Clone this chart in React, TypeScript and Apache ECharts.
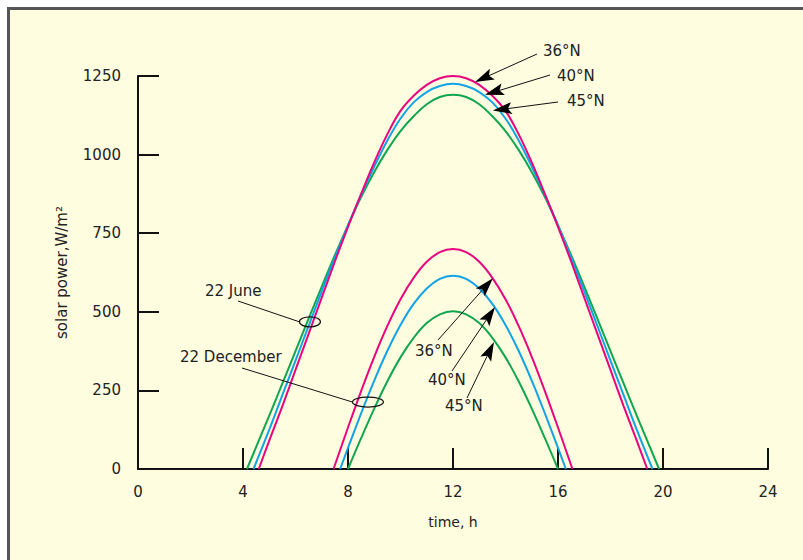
import React, { useEffect, useRef } from "react";
import * as echarts from "echarts";

// ---- data ----
const xTicks = [0, 4, 8, 12, 16, 20, 24];
const yTicks = [0, 250, 500, 750, 1000, 1250];

const hoursJune36 = [4.6, 5, 5.5, 6, 6.5, 7, 7.5, 8, 8.5, 9, 9.5, 10, 10.5, 11, 11.5, 12, 12.5, 13, 13.5, 14, 14.5, 15, 15.5, 16, 16.5, 17, 17.5, 18, 18.5, 19, 19.4];
const june36 = [0, 90, 200, 315, 430, 545, 660, 770, 875, 975, 1065, 1139, 1187, 1222, 1243, 1250, 1243, 1222, 1187, 1139, 1065, 975, 875, 770, 660, 545, 430, 315, 200, 90, 0];

const hoursJune40 = [4.4, 5, 5.5, 6, 6.5, 7, 7.5, 8, 8.5, 9, 9.5, 10, 10.5, 11, 11.5, 12, 12.5, 13, 13.5, 14, 14.5, 15, 15.5, 16, 16.5, 17, 17.5, 18, 18.5, 19, 19.6];
const june40 = [0, 125, 235, 345, 455, 565, 672, 775, 872, 962, 1045, 1115, 1166, 1199, 1218, 1225, 1218, 1199, 1166, 1115, 1045, 962, 872, 775, 672, 565, 455, 345, 235, 125, 0];

const hoursJune45 = [4.15, 5, 5.5, 6, 6.5, 7, 7.5, 8, 8.5, 9, 9.5, 10, 10.5, 11, 11.5, 12, 12.5, 13, 13.5, 14, 14.5, 15, 15.5, 16, 16.5, 17, 17.5, 18, 18.5, 19, 19.85];
const june45 = [0, 170, 272, 375, 478, 580, 680, 775, 865, 945, 1015, 1075, 1122, 1160, 1183, 1190, 1183, 1160, 1122, 1075, 1015, 945, 865, 775, 680, 580, 478, 375, 272, 170, 0];

const hoursDec36 = [7.45, 8, 8.5, 9, 9.5, 10, 10.5, 11, 11.5, 12, 12.5, 13, 13.5, 14, 14.5, 15, 15.5, 16, 16.55];
const dec36 = [0, 132, 248, 357, 455, 540, 608, 659, 690, 700, 690, 659, 608, 540, 455, 357, 248, 132, 0];

const hoursDec40 = [7.7, 8, 8.5, 9, 9.5, 10, 10.5, 11, 11.5, 12, 12.5, 13, 13.5, 14, 14.5, 15, 15.5, 16, 16.3];
const dec40 = [0, 67, 177, 281, 376, 458, 525, 574, 605, 615, 605, 574, 525, 458, 376, 281, 177, 67, 0];

const hoursDec45 = [8, 8.5, 9, 9.5, 10, 10.5, 11, 11.5, 12, 12.5, 13, 13.5, 14, 14.5, 15, 15.5, 16];
const dec45 = [0, 98, 192, 279, 355, 417, 464, 492, 502, 492, 464, 417, 355, 279, 192, 98, 0];

const latitudes = ["36°N", "40°N", "45°N"];
const colors = ["#E8047F", "#12A3E6", "#10A650"];

const FONT = "'DejaVu Sans', 'Liberation Sans', Arial, sans-serif";

const zip = (h: number[], v: number[]) => h.map((x, i) => [x, v[i]]);

export default function App() {
  const ref = useRef<HTMLDivElement>(null);

  useEffect(() => {
    if (!ref.current) return;
    const chart = echarts.init(ref.current, null, { renderer: "svg" });

    const lineSeries = (name: string, data: number[][], color: string) => ({
      name,
      type: "line",
      data,
      smooth: 0.4,
      symbol: "none",
      lineStyle: { color, width: 2 },
      z: 3,
    });

    const axisCommon = {
      type: "value",
      nameLocation: "middle",
      axisLine: { show: true, lineStyle: { color: "#111", width: 2 } },
      axisTick: { show: true, inside: true, length: 21, lineStyle: { color: "#111", width: 2 } },
      splitLine: { show: false },
    };

    chart.setOption({
      animation: false,
      backgroundColor: "transparent",
      grid: { left: 138, right: 35, top: 76, bottom: 91 },
      xAxis: {
        ...axisCommon,
        min: xTicks[0],
        max: xTicks[xTicks.length - 1],
        interval: 4,
        name: "time, h",
        nameGap: 46,
        nameTextStyle: { fontSize: 14, color: "#222", fontFamily: FONT },
        axisLabel: { margin: 15, fontSize: 15, color: "#222", fontFamily: FONT, formatter: (v: number) => String(v) },
      },
      yAxis: {
        ...axisCommon,
        min: yTicks[0],
        max: yTicks[yTicks.length - 1],
        interval: 250,
        name: "solar power,W/m²",
        nameGap: 69,
        nameTextStyle: { fontSize: 15, color: "#222", fontFamily: FONT },
        axisLabel: { margin: 17, fontSize: 15, color: "#222", fontFamily: FONT, formatter: (v: number) => String(v) },
      },
      series: [
        lineSeries("22 June " + latitudes[2], zip(hoursJune45, june45), colors[2]),
        lineSeries("22 June " + latitudes[1], zip(hoursJune40, june40), colors[1]),
        lineSeries("22 June " + latitudes[0], zip(hoursJune36, june36), colors[0]),
        lineSeries("22 December " + latitudes[2], zip(hoursDec45, dec45), colors[2]),
        lineSeries("22 December " + latitudes[1], zip(hoursDec40, dec40), colors[1]),
        lineSeries("22 December " + latitudes[0], zip(hoursDec36, dec36), colors[0]),
      ],
    });

    const px = (p: number[]) => chart.convertToPixel({ gridIndex: 0 }, p) as number[];

    // annotation arrows: tip on the curve (data coords), tail and label in pixels
    const arrows = [
      { text: latitudes[0], tip: [12.84, 1231], tail: [537, 54], label: [543, 51] },
      { text: latitudes[1], tip: [13.22, 1190], tail: [550, 75], label: [557, 76] },
      { text: latitudes[2], tip: [13.52, 1140], tail: [558, 102], label: [567, 101] },
      { text: latitudes[0], tip: [13.52, 607], tail: [438, 340], label: [415, 351] },
      { text: latitudes[1], tip: [13.6, 515], tail: [452, 371], label: [428, 380] },
      { text: latitudes[2], tip: [13.56, 404], tail: [467, 398], label: [445, 406] },
    ];

    const g: any[] = [];
    arrows.forEach((a) => {
      const [tx, ty] = px(a.tip);
      const [sx, sy] = a.tail;
      const dx = tx - sx;
      const dy = ty - sy;
      const len = Math.hypot(dx, dy);
      const ux = dx / len;
      const uy = dy / len;
      const nx = -uy;
      const ny = ux;
      const hl = 19;
      const hw = 6;
      const bx = tx - ux * hl;
      const by = ty - uy * hl;
      g.push({
        type: "line",
        shape: { x1: sx, y1: sy, x2: bx + ux * 4, y2: by + uy * 4 },
        style: { stroke: "#111", lineWidth: 1 },
        z: 10,
      });
      g.push({
        type: "polygon",
        shape: {
          points: [
            [tx, ty],
            [bx + nx * hw, by + ny * hw],
            [tx - ux * hl * 0.8, ty - uy * hl * 0.8],
            [bx - nx * hw, by - ny * hw],
          ],
        },
        style: { fill: "#000" },
        z: 10,
      });
      g.push({
        type: "text",
        x: a.label[0],
        y: a.label[1],
        style: { text: a.text, fontSize: 15, fontFamily: FONT, fill: "#222", verticalAlign: "middle" },
        z: 10,
      });
    });

    // date callouts with ellipses
    const callouts = [
      { text: "22 June", at: [6.55, 468], rx: 10.5, ry: 5, tail: [238, 301], label: [205, 291] },
      { text: "22 December", at: [8.76, 213], rx: 15.5, ry: 5, tail: [242, 368], label: [180, 357] },
    ];
    callouts.forEach((c) => {
      const [cx, cy] = px(c.at);
      g.push({
        type: "ellipse",
        shape: { cx, cy, rx: c.rx, ry: c.ry },
        style: { fill: "none", stroke: "#111", lineWidth: 1.2 },
        z: 10,
      });
      g.push({
        type: "line",
        shape: { x1: c.tail[0], y1: c.tail[1], x2: cx - c.rx, y2: cy },
        style: { stroke: "#111", lineWidth: 1 },
        z: 10,
      });
      g.push({
        type: "text",
        x: c.label[0],
        y: c.label[1],
        style: { text: c.text, fontSize: 15, fontFamily: FONT, fill: "#222", verticalAlign: "middle" },
        z: 10,
      });
    });

    chart.setOption({ graphic: g });

    return () => chart.dispose();
  }, []);

  return (
    <div style={{ position: "fixed", left: 0, top: 0, width: 803, height: 560, background: "#fff", overflow: "hidden" }}>
      <div
        style={{
          position: "absolute",
          left: 7,
          top: 7,
          width: 820,
          height: 580,
          background: "#FFFDE0",
          borderTop: "3px solid #555",
          borderLeft: "3px solid #555",
        }}
      />
      <div ref={ref} style={{ position: "absolute", left: 0, top: 0, width: 803, height: 560 }} />
    </div>
  );
}
